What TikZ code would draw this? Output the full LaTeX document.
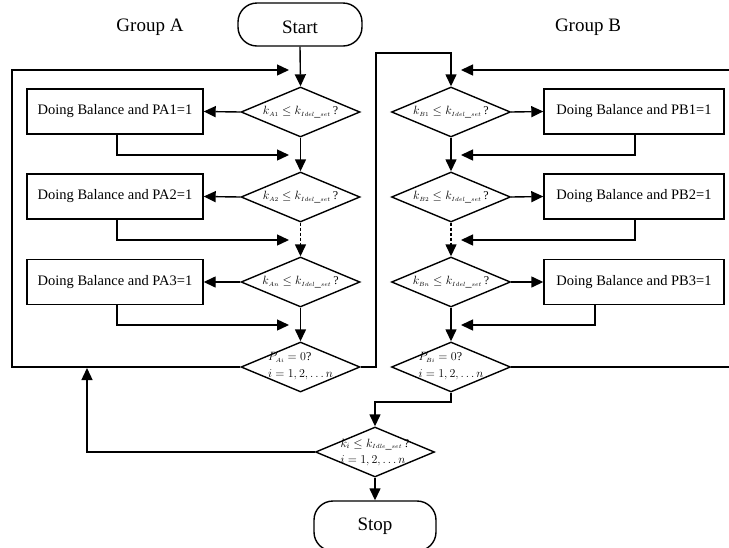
\documentclass[tikz,border=0pt]{standalone}
\usepackage{fontspec}
\setmainfont{Liberation Serif}
\usetikzlibrary{shapes.geometric,arrows.meta}

% tiny subscript for the diamond labels
\newcommand\ssub[1]{{\scriptscriptstyle #1}}

\tikzset{
  flow/.style={line width=1.4pt, line join=miter},
  arr/.style={flow, -{Triangle[length=12pt,width=11pt]}},
  proc/.style={draw, line width=1.4pt, rectangle, minimum height=45pt,
    inner sep=0pt, font=\fontsize{14.5}{16}\selectfont},
  decision/.style={draw, line width=1.4pt, diamond, minimum width=119pt,
    minimum height=50pt, inner sep=0pt},
  dtext/.style={inner sep=0pt, align=left, font=\fontsize{12}{14}\selectfont},
  term/.style={draw, line width=1.4pt, rectangle, rounded corners=19pt,
    inner sep=0pt, font=\fontsize{19}{21}\selectfont},
  grp/.style={inner sep=0pt, font=\fontsize{19}{21}\selectfont}
}

\begin{document}
\begin{tikzpicture}[x=1pt,y=-1pt]
\useasboundingbox (0,0) rectangle (729,547);

% titles and terminals
\node[grp] (ga) at (150,27) {Group A};
\node[grp] (gb) at (588,27) {Group B};
\node[term, minimum width=124pt, minimum height=43pt, text height=18pt, text depth=0pt] (start) at (300,24.5) {Start};
\node[term, minimum width=122pt, minimum height=50pt] (stop) at (375,526) {Stop};

% group A
\node[decision] (a1) at (300.5,112) {};
\node[decision] (a2) at (300.5,197) {};
\node[decision] (an) at (300.5,282) {};
\node[decision] (pa) at (300.5,367) {};
\node[dtext] (a1t) at (a1.center) {$k_\ssub{A1}\le k_\ssub{Idel\_set}$\,?};
\node[dtext] (a2t) at (a2.center) {$k_\ssub{A2}\le k_\ssub{Idel\_set}$\,?};
\node[dtext] (ant) at (an.center) {$k_\ssub{An}\le k_\ssub{Idel\_set}$\,?};
\node[dtext] (pat) at ([yshift=1pt]pa.center) {$P_\ssub{Ai}=0$?\\[3pt]$i=1,2,\ldots n$};

\node[proc, minimum width=176pt] (pa1) at (115,111.5) {Doing Balance and PA1=1};
\node[proc, minimum width=176pt] (pa2) at (115,196.5) {Doing Balance and PA2=1};
\node[proc, minimum width=176pt] (pa3) at (115,282) {Doing Balance and PA3=1};

% group B
\node[decision] (b1) at (451,112) {};
\node[decision] (b2) at (451,197) {};
\node[decision] (bn) at (451,282) {};
\node[decision] (pb) at (451,367) {};
\node[dtext] (b1t) at (b1.center) {$k_\ssub{B1}\le k_\ssub{Idel\_set}$\,?};
\node[dtext] (b2t) at (b2.center) {$k_\ssub{B2}\le k_\ssub{Idel\_set}$\,?};
\node[dtext] (bnt) at (bn.center) {$k_\ssub{Bn}\le k_\ssub{Idel\_set}$\,?};
\node[dtext] (pbt) at ([yshift=1pt]pb.center) {$P_\ssub{Bi}=0$?\\[3pt]$i=1,2,\ldots n$};

\node[proc, minimum width=180pt] (pb1) at (634,111.5) {Doing Balance and PB1=1};
\node[proc, minimum width=180pt] (pb2) at (634,196.5) {Doing Balance and PB2=1};
\node[proc, minimum width=180pt] (pb3) at (634,282) {Doing Balance and PB3=1};

% final check
\node[decision] (fin) at (375,452) {};
\node[dtext] (fint) at (fin.center) {$k_i\le k_\ssub{Idle\_set}$\,?\\[2pt]$i=1,2,\ldots n$};

% merge points on the main lines
\coordinate (ja) at (289,70);
\coordinate (ra1) at (289,155);
\coordinate (ra2) at (289,240);
\coordinate (ra3) at (289,325);
\coordinate (jb) at (461,70);
\coordinate (rb1) at (461,155);
\coordinate (rb2) at (461,240);
\coordinate (rb3) at (461,325);
\coordinate (lpa) at (12,367);
\coordinate (lpb) at (731,367);
\coordinate (cross) at (376,367);
\coordinate (topb) at (376,53);
\coordinate (bend) at (451,402);
\coordinate (back) at (87,368);

% group A flow
\draw[arr] (start.south) -- (a1.north);
\draw[arr] (a1.west) -- (pa1.east);
\draw[arr] (a2.west) -- (pa2.east);
\draw[arr] (an.west) -- (pa3.east);
\draw[arr] (a1.south) -- (a2.north);
\draw[arr, dash pattern=on 3pt off 2pt] (a2.south) -- (an.north);
\draw[arr] (an.south) -- (pa.north);
\draw[arr] ([xshift=2pt]pa1.south) |- (ra1);
\draw[arr] ([xshift=2pt]pa2.south) |- (ra2);
\draw[arr] ([xshift=2pt]pa3.south) |- (ra3);
\draw[arr] (pa.west) -- (lpa) |- (ja);

% from group A to group B
\draw[arr] (pa.east) -- (cross) -- (topb) -| (b1.north);

% group B flow
\draw[arr] (b1.east) -- (pb1.west);
\draw[arr] (b2.east) -- (pb2.west);
\draw[arr] (bn.east) -- (pb3.west);
\draw[arr] (b1.south) -- (b2.north);
\draw[arr, dash pattern=on 3pt off 2pt] (b2.south) -- (bn.north);
\draw[arr] (bn.south) -- (pb.north);
\draw[arr] ([xshift=1pt]pb1.south) |- (rb1);
\draw[arr] ([xshift=1pt]pb2.south) |- (rb2);
\draw[arr] ([xshift=-39pt]pb3.south) |- (rb3);
\draw[arr] (pb.east) -- (lpb) |- (jb);

% final decision
\draw[arr] (pb.south) -- (bend) -| (fin.north);
\draw[arr] (fin.west) -| (back);
\draw[arr] (fin.south) -- (stop.north);
\end{tikzpicture}
\end{document}
